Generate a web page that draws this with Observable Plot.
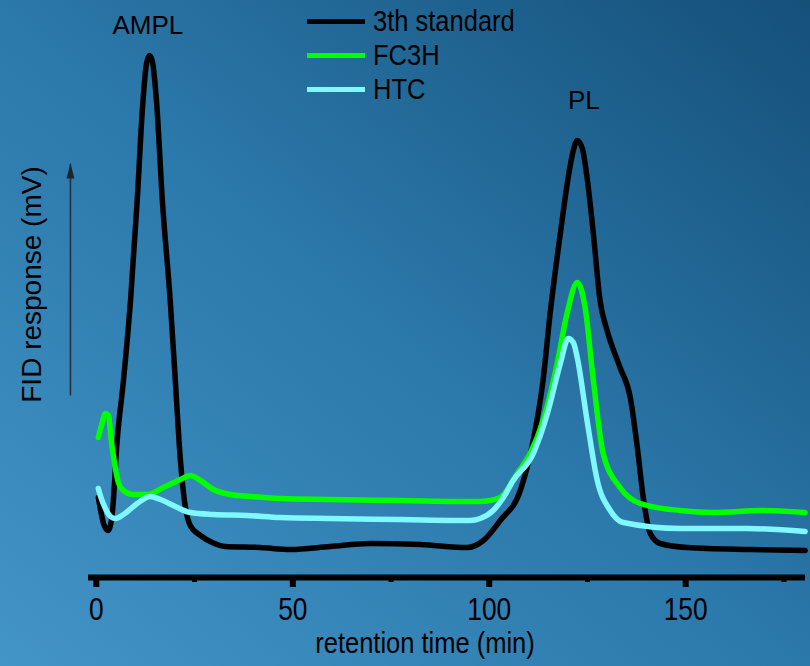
<!DOCTYPE html>
<html>
<head>
<meta charset="utf-8">
<script src="https://cdn.jsdelivr.net/npm/d3@7"></script>
<script src="https://cdn.jsdelivr.net/npm/@observablehq/plot@0.6"></script>
<style>
  html, body { margin: 0; padding: 0; background: #2b79ab; }
  #figure {
    position: relative; width: 810px; height: 666px; overflow: hidden;
    background: linear-gradient(to top right, #4394c7 0%, #2b78aa 50%, #155079 100%);
    font-family: "Liberation Sans", Arial, sans-serif;
  }
  #figure svg { position: absolute; left: 0; top: 0; }
  [aria-label="x-axis tick label"] { font-size: 31px; }
  #legend { position: absolute; left: 307px; top: 0; }
  .item { position: absolute; left: 0; height: 34px; display: flex; align-items: center; white-space: nowrap; }
  .swatch { width: 58px; height: 5px; margin-right: 8px; }
  .label { font-size: 30px; color: #000; line-height: 1; transform: scaleX(0.85); transform-origin: left center; }
</style>
</head>
<body>
<div id="figure"><div id="legend"></div></div>
<script>
// Series names and colours
const seriesNames = ["3th standard", "FC3H", "HTC"];
const seriesColors = ["#000000", "#00ff00", "#80f8ff"];

// 3th standard chromatogram (retention time in min, FID response in mV)
const standardTime = [0.5, 2, 3, 4, 5.3, 6.9, 8.7, 10.4, 11.7, 12.7, 13.5, 14.2, 15.3, 16.8, 18.8, 20.1, 21.4, 22.6, 23.9, 26.5, 29.5, 32.8, 41.7, 49.4, 59.5, 69.7, 82.4, 94.4, 98.5, 102.8, 107.9, 111.2, 113.7, 115.5, 118.1, 120.1, 121.4, 122.4, 123.7, 124.9, 126.5, 128.2, 130.0, 133.3, 135.9, 137.7, 139.2, 141.0, 143.5, 150.4, 166.4, 180.4];
const standardResponse = [8.0, 5.2, 4.7, 6.2, 13.7, 19.7, 27.7, 37.7, 46.7, 51.2, 52.2, 51.7, 47.7, 37.7, 27.7, 19.7, 11.7, 7.2, 5.2, 4.2, 3.5, 3.1, 3.0, 2.8, 3.1, 3.4, 3.3, 3.0, 3.7, 5.7, 8.7, 13.7, 19.7, 26.4, 34.4, 40.0, 42.7, 43.7, 42.9, 40.0, 34.4, 27.7, 24.7, 21.0, 18.0, 13.0, 8.0, 4.4, 3.4, 3.0, 2.8, 2.7];

// FC3H chromatogram
const fc3hTime = [0.5, 1.3, 2.3, 3.1, 3.8, 4.6, 5.6, 6.9, 9.4, 13.0, 17.0, 21.4, 23.9, 26.5, 29.8, 34.1, 39.2, 46.8, 59.5, 77.4, 97.7, 102.8, 107.1, 110.4, 113.7, 117.3, 119.8, 122.4, 124.4, 126.5, 129.0, 133.3, 138.4, 148.6, 157.0, 169.7, 180.4];
const fc3hResponse = [14.0, 15.2, 16.4, 16.2, 13.7, 11.5, 9.5, 8.7, 8.3, 8.3, 9.0, 9.8, 10.2, 9.7, 8.8, 8.3, 8.1, 7.9, 7.8, 7.7, 7.6, 8.0, 10.4, 12.4, 15.7, 21.4, 26.4, 29.5, 27.0, 19.7, 12.4, 9.0, 7.4, 6.7, 6.5, 6.7, 6.5];

// HTC chromatogram
const htcTime = [0.5, 1.0, 2.3, 3.6, 4.8, 6.9, 10.4, 13.7, 16.3, 20.1, 23.9, 29.8, 38.4, 46.8, 59.5, 77.4, 95.2, 97.7, 101.0, 103.6, 106.1, 111.2, 114.8, 118.1, 120.1, 121.4, 122.4, 124.9, 127.5, 130.8, 134.1, 148.6, 165.6, 180.4];
const htcResponse = [8.9, 8.2, 6.9, 6.1, 5.9, 6.3, 7.4, 8.1, 7.8, 7.1, 6.5, 6.3, 6.2, 6.0, 5.9, 5.8, 5.7, 5.9, 6.7, 8.0, 9.7, 12.4, 16.4, 21.4, 23.9, 23.5, 22.0, 15.7, 9.7, 6.7, 5.5, 4.9, 4.9, 4.6];

// Axis ticks and titles
const majorTicks = [0, 50, 100, 150];
const minorTicks = [25, 75, 125, 175];
const xTitle = "retention time (min)";
const yTitle = "FID response (mV)";

// Peak annotations
const peakLabels = ["AMPL", "PL"];
const peakLabelTime = [13.1, 124.1];
const peakLabelHeight = [55.2, 47.7];

// Upward arrow beside the response axis
const responseArrow = [{x: -6.6, from: 18.2, to: 41.4}];

const toRows = (time, response) => time.map((t, i) => ({t, v: response[i]}));
const series = [
  toRows(standardTime, standardResponse),
  toRows(fc3hTime, fc3hResponse),
  toRows(htcTime, htcResponse)
];

// Filled, elongated arrowhead with its tip at the origin
const arrowHead = {
  draw(context) {
    context.moveTo(0, 0);
    context.lineTo(4, 15);
    context.lineTo(-4, 15);
    context.closePath();
  }
};

const chart = Plot.plot({
  width: 810,
  height: 666,
  marginLeft: 88,
  marginRight: 5,
  marginTop: 37,
  marginBottom: 89,
  style: {background: "transparent", color: "#000", overflow: "visible", fontFamily: "'Liberation Sans', Arial, sans-serif"},
  x: {domain: [-2, 180.5]},
  y: {domain: [0, 54], axis: null},
  marks: [
    Plot.axisX({ticks: minorTicks, tickSize: 5, strokeWidth: 5, text: null, label: null}),
    Plot.axisX({ticks: majorTicks, tickSize: 10, strokeWidth: 6, tickPadding: 10, label: null, fill: "#000"}),
    Plot.ruleY([0], {stroke: "#000", strokeWidth: 6}),
    ...series.map((rows, i) => Plot.line(rows, {
      x: "t", y: "v", stroke: seriesColors[i], strokeWidth: 5.5,
      curve: "monotone-x", strokeLinejoin: "round", strokeLinecap: "round"
    })),
    Plot.text(peakLabels, {x: (d, i) => peakLabelTime[i], y: (d, i) => peakLabelHeight[i], text: d => d, fontSize: 26, fill: "#000"}),
    Plot.text([xTitle], {frameAnchor: "bottom", dx: -22, dy: 75, fontSize: 30, fill: "#000"}),
    Plot.text([yTitle], {frameAnchor: "left", textAnchor: "middle", rotate: -90, dx: -56, dy: -23, fontSize: 28, fill: "#000"}),
    Plot.link(responseArrow, {x1: "x", x2: "x", y1: "from", y2: "to", stroke: "#26313b", strokeWidth: 1.6}),
    Plot.dot(responseArrow, {x: "x", y: "to", symbol: arrowHead, fill: "#1c242d", stroke: null})
  ]
});

// Condense the x-axis lettering horizontally (each text carries its own translate)
chart.querySelectorAll("text").forEach((el) => {
  const group = el.closest("g[aria-label]");
  const isTick = group && group.getAttribute("aria-label") === "x-axis tick label";
  const isTitle = el.textContent === xTitle;
  if (!isTick && !isTitle) return;
  const tr = el.getAttribute("transform") || "";
  el.setAttribute("transform", `${tr} scale(0.85,1)`);
});

const figure = document.getElementById("figure");
figure.insertBefore(chart, figure.firstChild);

// Legend
const legend = d3.select("#legend");
seriesNames.forEach((name, i) => {
  const item = legend.append("div").attr("class", "item").style("top", `${4 + i * 34}px`);
  item.append("div").attr("class", "swatch").style("background", seriesColors[i]);
  item.append("div").attr("class", "label").text(name);
});
</script>
</body>
</html>
